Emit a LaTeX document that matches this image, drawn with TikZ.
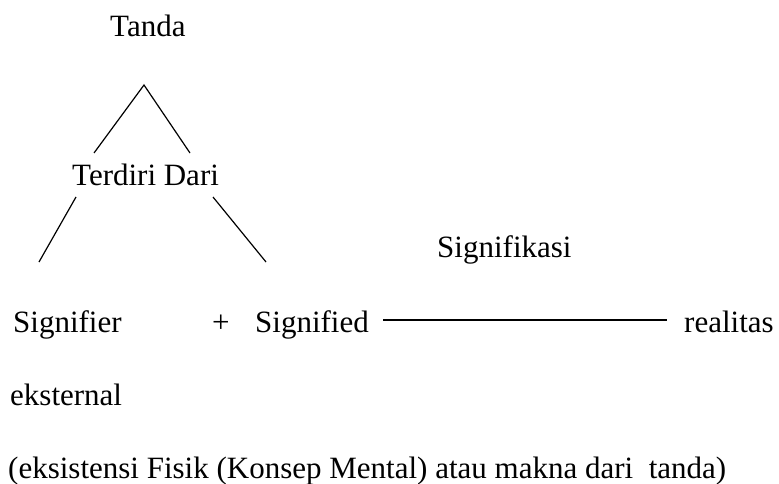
\documentclass[tikz,border=0pt]{standalone}
\usepackage{fontspec}
\setmainfont{Liberation Serif}
\begin{document}
\begin{tikzpicture}[x=1pt,y=-1pt,
  lbl/.style={anchor=base west,inner sep=0pt,font=\fontsize{31}{37}\selectfont},
  conn/.style={line width=1.2pt}]
\useasboundingbox[fill=white] (0,0) rectangle (779,484);
% text nodes
\node[lbl] (tanda) at (110,37) {Tanda};
\node[lbl] (terdiri) at (72,185) {Terdiri Dari};
\node[lbl] (signifikasi) at (437,257) {Signifikasi};
\node[lbl] (signifier) at (13,332) {Signifier};
\node[lbl] (plus) at (212,332) {+};
\node[lbl] (signified) at (255,332) {Signified};
\node[lbl] (realitas) at (684,332) {realitas};
\node[lbl] (eksternal) at (10,405) {eksternal};
\node[lbl] (ket) at (8,478) {(eksistensi Fisik (Konsep Mental) atau makna dari\ \ tanda)};
% connector end points
\coordinate (apex) at (144,85);
\coordinate (aL) at (94,153);
\coordinate (aR) at (190,153);
\coordinate (bLt) at (76,197);
\coordinate (bLb) at (39,262);
\coordinate (bRt) at (213,197);
\coordinate (bRb) at (266,262);
\coordinate (hS) at (383,320);
\coordinate (hE) at (667,320);
% connectors
\draw[conn] (aL) -- (apex) -- (aR);
\draw[conn] (bLt) -- (bLb);
\draw[conn] (bRt) -- (bRb);
\draw[conn] (hS) -- (hE);
\end{tikzpicture}
\end{document}
